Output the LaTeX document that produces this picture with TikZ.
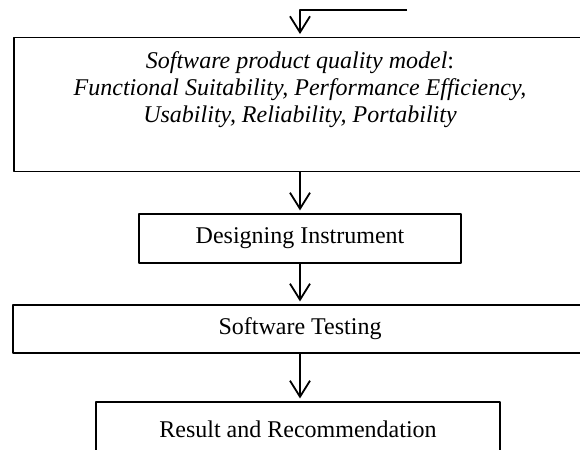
\documentclass[tikz,border=0pt]{standalone}
\usepackage{fontspec}
\setmainfont{Liberation Serif}
\usetikzlibrary{arrows.meta}
\begin{document}
\begin{tikzpicture}[x=0.5pt,y=-0.5pt,line join=round,
	box/.style={draw,line width=0.6pt,inner sep=0pt,align=center,font=\fontsize{12}{13.5}\selectfont},
	flow/.style={-{Straight Barb[length=8pt,width=10pt]},line width=0.9pt,shorten >=1.5pt}]
	\useasboundingbox (0,0) rectangle (580,450);
	\coordinate (feed) at (407,10);
	\node[box,anchor=north,minimum width=286pt,text height=42.5pt,text depth=24.5pt] (qmodel) at (300,37)
		{\textit{Software product quality model}:\\ \textit{Functional Suitability, Performance Efficiency,}\\ \textit{Usability, Reliability, Portability}};
	\node[box,minimum width=161pt,minimum height=24.5pt] (design) at (300,238.5) {Designing Instrument};
	\node[box,minimum width=287pt,minimum height=24pt] (test) at (300,329) {Software Testing};
	\node[box,minimum width=202pt,minimum height=27pt] (result) at (298,429) {Result and Recommendation};
	\draw[flow] (feed) -| (qmodel.north);
	\draw[flow] (qmodel.south) -- (design.north);
	\draw[flow] (design.south) -- (design.south |- test.north);
	\draw[flow] (test.south) -- (test.south |- result.north);
\end{tikzpicture}
\end{document}
